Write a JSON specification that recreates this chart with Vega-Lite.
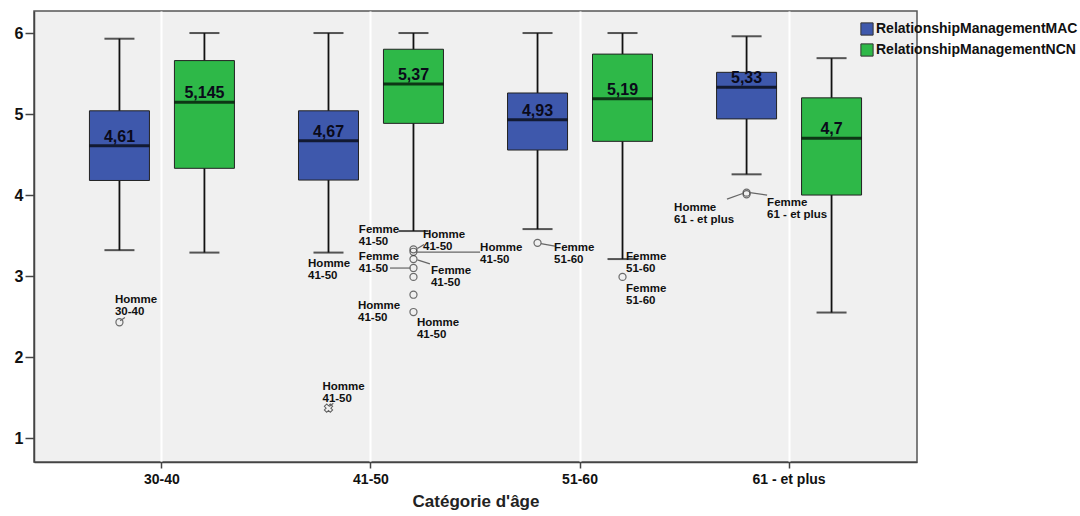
{
  "$schema": "https://vega.github.io/schema/vega-lite/v6.json",
  "width": 883,
  "height": 451,
  "autosize": {"type": "none"},
  "padding": {"left": 34, "top": 11, "right": 163, "bottom": 54},
  "background": "white",
  "config": {
    "view": {"fill": "#f0f0f0", "stroke": "#555", "strokeWidth": 1.5},
    "font": "Liberation Sans",
    "axis": {"labelFont": "Liberation Sans", "titleFont": "Liberation Sans", "labelFontWeight": "bold", "titleFontWeight": "bold", "labelColor": "#111", "titleColor": "#222", "domainColor": "#444", "domainWidth": 1.5, "tickColor": "#444", "tickWidth": 1.5}
  },
  "datasets": {
    "boxes": [
      {"cat": "30-40", "series": "RelationshipManagementMAC", "lower": 3.32, "q1": 4.18, "median": 4.61, "q3": 5.04, "upper": 5.93, "label": "4,61"},
      {"cat": "30-40", "series": "RelationshipManagementNCN", "lower": 3.29, "q1": 4.33, "median": 5.145, "q3": 5.66, "upper": 6.0, "label": "5,145"},
      {"cat": "41-50", "series": "RelationshipManagementMAC", "lower": 3.29, "q1": 4.185, "median": 4.67, "q3": 5.04, "upper": 6.0, "label": "4,67"},
      {"cat": "41-50", "series": "RelationshipManagementNCN", "lower": 3.556, "q1": 4.885, "median": 5.37, "q3": 5.8, "upper": 6.0, "label": "5,37"},
      {"cat": "51-60", "series": "RelationshipManagementMAC", "lower": 3.58, "q1": 4.556, "median": 4.93, "q3": 5.26, "upper": 6.0, "label": "4,93"},
      {"cat": "51-60", "series": "RelationshipManagementNCN", "lower": 3.21, "q1": 4.663, "median": 5.19, "q3": 5.74, "upper": 6.0, "label": "5,19"},
      {"cat": "61 - et plus", "series": "RelationshipManagementMAC", "lower": 4.256, "q1": 4.94, "median": 5.33, "q3": 5.515, "upper": 5.96, "label": "5,33"},
      {"cat": "61 - et plus", "series": "RelationshipManagementNCN", "lower": 2.55, "q1": 4.0, "median": 4.7, "q3": 5.2, "upper": 5.69, "label": "4,7"}
    ],
    "outliers": [
      {"cat": "30-40", "series": "RelationshipManagementMAC", "value": 2.43, "kind": "circle"},
      {"cat": "41-50", "series": "RelationshipManagementMAC", "value": 1.37, "kind": "star"},
      {"cat": "41-50", "series": "RelationshipManagementNCN", "value": 3.33, "kind": "circle"},
      {"cat": "41-50", "series": "RelationshipManagementNCN", "value": 3.3, "kind": "circle"},
      {"cat": "41-50", "series": "RelationshipManagementNCN", "value": 3.21, "kind": "circle"},
      {"cat": "41-50", "series": "RelationshipManagementNCN", "value": 3.1, "kind": "circle"},
      {"cat": "41-50", "series": "RelationshipManagementNCN", "value": 2.99, "kind": "circle"},
      {"cat": "41-50", "series": "RelationshipManagementNCN", "value": 2.77, "kind": "circle"},
      {"cat": "41-50", "series": "RelationshipManagementNCN", "value": 2.556, "kind": "circle"},
      {"cat": "51-60", "series": "RelationshipManagementMAC", "value": 3.41, "kind": "circle"},
      {"cat": "51-60", "series": "RelationshipManagementNCN", "value": 2.99, "kind": "circle"},
      {"cat": "61 - et plus", "series": "RelationshipManagementMAC", "value": 4.03, "kind": "circle"},
      {"cat": "61 - et plus", "series": "RelationshipManagementMAC", "value": 4.01, "kind": "circle"}
    ],
    "notes": [
      {"pos": -0.225, "val": 2.78, "text": "Homme\n30-40"},
      {"pos": 0.768, "val": 1.7, "text": "Homme\n41-50"},
      {"pos": 0.942, "val": 3.64, "text": "Femme\n41-50"},
      {"pos": 1.249, "val": 3.58, "text": "Homme\n41-50"},
      {"pos": 0.699, "val": 3.22, "text": "Homme\n41-50"},
      {"pos": 0.942, "val": 3.31, "text": "Femme\n41-50"},
      {"pos": 1.287, "val": 3.14, "text": "Femme\n41-50"},
      {"pos": 1.522, "val": 3.42, "text": "Homme\n41-50"},
      {"pos": 0.938, "val": 2.7, "text": "Homme\n41-50"},
      {"pos": 1.22, "val": 2.49, "text": "Homme\n41-50"},
      {"pos": 1.876, "val": 3.42, "text": "Femme\n51-60"},
      {"pos": 2.22, "val": 3.31, "text": "Femme\n51-60"},
      {"pos": 2.22, "val": 2.92, "text": "Femme\n51-60"},
      {"pos": 2.45, "val": 3.91, "text": "Homme\n61 - et plus"},
      {"pos": 2.895, "val": 3.97, "text": "Femme\n61 - et plus"}
    ],
    "leaders": [
      {"pos": 1.215, "pos2": 1.522, "val": 3.296, "val2": 3.296},
      {"pos": 1.091, "pos2": 1.19, "val": 3.099, "val2": 3.099},
      {"pos": 1.222, "pos2": 1.282, "val": 3.2, "val2": 3.15},
      {"pos": 1.222, "pos2": 1.254, "val": 3.34, "val2": 3.39},
      {"pos": 1.813, "pos2": 1.88, "val": 3.4, "val2": 3.37},
      {"pos": 2.703, "pos2": 2.778, "val": 3.95, "val2": 4.02},
      {"pos": 2.813, "pos2": 2.895, "val": 4.03, "val2": 4.0},
      {"pos": -0.2, "pos2": -0.177, "val": 2.45, "val2": 2.49},
      {"pos": 0.8, "pos2": 0.82, "val": 1.39, "val2": 1.43}
    ]
  },
  "resolve": {"scale": {"x": "independent"}},
  "layer": [
    {
      "data": {"name": "boxes"},
      "encoding": {
        "x": {"field": "cat", "type": "nominal", "sort": null,
          "scale": {"paddingInner": 0, "paddingOuter": 0.112},
          "axis": {"title": "Catégorie d'âge", "labelAngle": 0, "labelFontSize": 14, "titleFontSize": 17, "tickSize": 6, "labelPadding": 4, "titlePadding": 7, "grid": true, "gridColor": "white", "gridWidth": 2}},
        "xOffset": {"field": "series", "type": "nominal", "scale": {"paddingInner": 0, "paddingOuter": 0.23}},
        "y": {"type": "quantitative", "scale": {"domain": [0.705, 6.272], "nice": false, "zero": false},
          "axis": {"title": null, "values": [1, 2, 3, 4, 5, 6], "format": "d", "labelFontSize": 16, "tickSize": 9, "labelPadding": 2, "grid": false}}
      },
      "layer": [
        {"mark": {"type": "rule", "color": "#111", "strokeWidth": 1.8},
         "encoding": {"y": {"field": "lower", "type": "quantitative"}, "y2": {"field": "upper"}}},
        {"mark": {"type": "tick", "color": "#111", "size": 30, "thickness": 2},
         "encoding": {"y": {"field": "lower", "type": "quantitative"}}},
        {"mark": {"type": "tick", "color": "#111", "size": 30, "thickness": 2},
         "encoding": {"y": {"field": "upper", "type": "quantitative"}}},
        {"mark": {"type": "bar", "width": 60, "stroke": "#222", "strokeWidth": 1},
         "encoding": {
           "y": {"field": "q1", "type": "quantitative"}, "y2": {"field": "q3"},
           "color": {"field": "series", "type": "nominal",
             "scale": {"domain": ["RelationshipManagementMAC", "RelationshipManagementNCN"], "range": ["#3e58ac", "#2eb848"]},
             "legend": {"title": null, "orient": "none", "legendX": 826, "legendY": 11, "symbolType": "square", "symbolSize": 150, "symbolStrokeColor": "#333", "symbolStrokeWidth": 1, "symbolOpacity": 1, "labelFont": "Liberation Sans", "labelFontWeight": "bold", "labelFontSize": 14, "labelColor": "#111", "labelOffset": 2, "rowPadding": 3, "labelLimit": 300}}
         }},
        {"mark": {"type": "tick", "color": "#000", "size": 60, "thickness": 3},
         "encoding": {"y": {"field": "median", "type": "quantitative"}}},
        {"mark": {"type": "text", "font": "Liberation Sans", "fontWeight": "bold", "fontSize": 16, "color": "#0a0a1a", "baseline": "alphabetic", "dy": -4},
         "encoding": {"y": {"field": "median", "type": "quantitative"}, "text": {"field": "label"}}},
        {"data": {"name": "outliers"},
         "transform": [{"filter": "datum.kind === 'circle'"}],
         "mark": {"type": "point", "shape": "circle", "filled": false, "stroke": "#333", "strokeWidth": 1.2, "size": 50},
         "encoding": {"y": {"field": "value", "type": "quantitative"}}},
        {"data": {"name": "outliers"},
         "transform": [{"filter": "datum.kind === 'star'"}],
         "mark": {"type": "point", "shape": "cross", "angle": 45, "filled": false, "stroke": "#222", "strokeWidth": 1, "size": 70},
         "encoding": {"y": {"field": "value", "type": "quantitative"}}}
      ]
    },
    {
      "data": {"name": "leaders"},
      "mark": {"type": "rule", "color": "#666", "strokeWidth": 1.2},
      "encoding": {
        "x": {"field": "pos", "type": "quantitative", "scale": {"domain": [-0.612, 3.612], "nice": false, "zero": false}, "axis": null},
        "x2": {"field": "pos2"},
        "y": {"field": "val", "type": "quantitative"},
        "y2": {"field": "val2"}
      }
    },
    {
      "data": {"name": "notes"},
      "mark": {"type": "text", "font": "Liberation Sans", "fontWeight": "bold", "fontSize": 11.5, "lineHeight": 12, "lineBreak": "\n", "align": "left", "baseline": "top", "color": "#111"},
      "encoding": {
        "x": {"field": "pos", "type": "quantitative", "scale": {"domain": [-0.612, 3.612], "nice": false, "zero": false}, "axis": null},
        "y": {"field": "val", "type": "quantitative"},
        "text": {"field": "text"}
      }
    }
  ]
}
